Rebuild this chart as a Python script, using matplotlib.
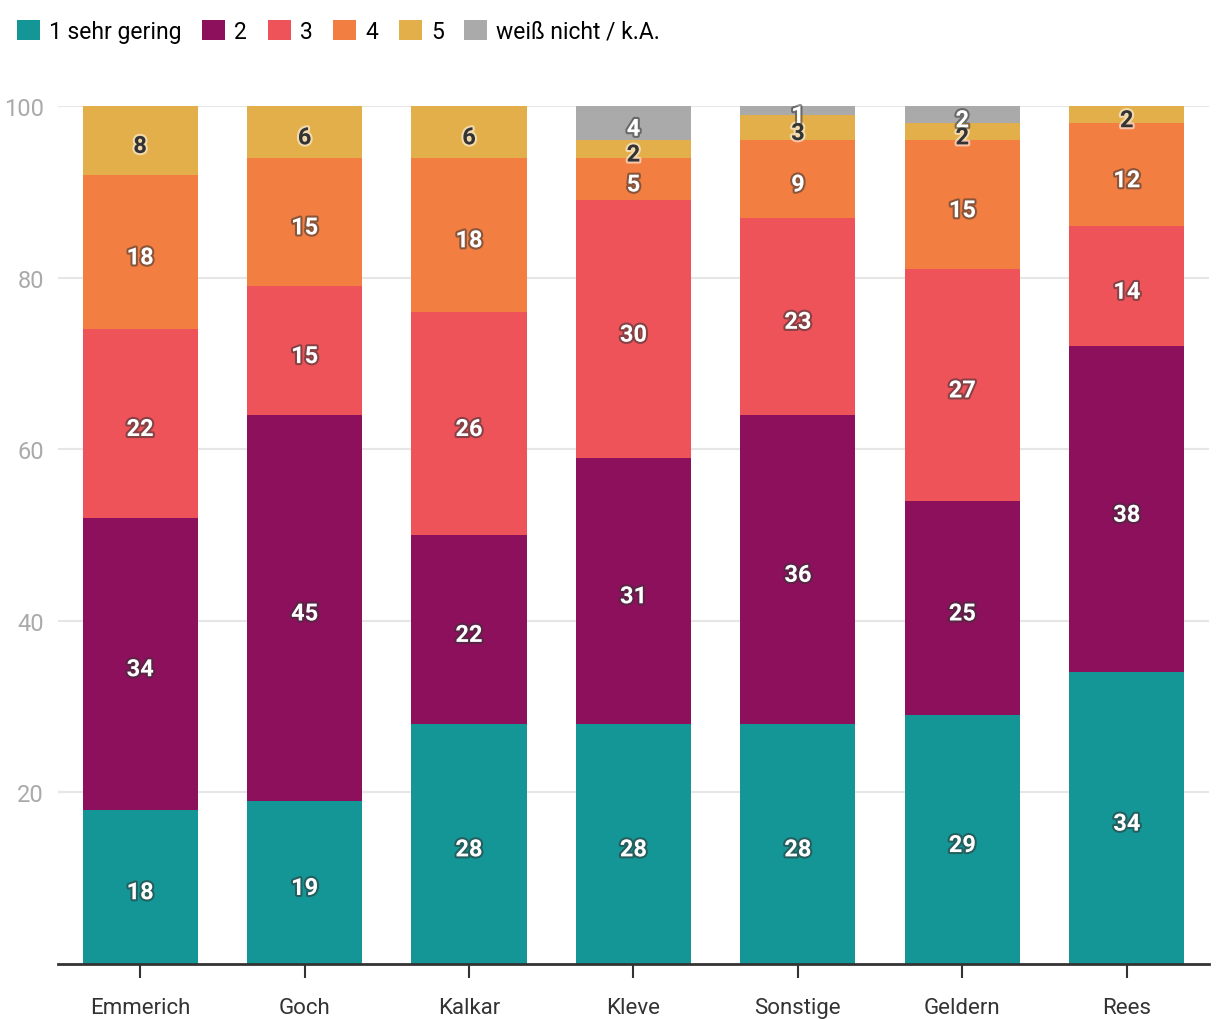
import numpy as np
import matplotlib
matplotlib.use('Agg')
import matplotlib.pyplot as plt
import matplotlib.patheffects as pe
from matplotlib.patches import Patch

plt.rcParams['font.family'] = ['Roboto', 'DejaVu Sans']

orte = ['Emmerich', 'Goch', 'Kalkar', 'Kleve', 'Sonstige', 'Geldern', 'Rees']
serien = ['1 sehr gering', '2', '3', '4', '5', 'weiß nicht / k.A.']
farben = ['#149696', '#8c105c', '#ee535a', '#f27e42', '#e3af4a', '#aaaaaa']

s1 = [18, 19, 28, 28, 28, 29, 34]
s2 = [34, 45, 22, 31, 36, 25, 38]
s3 = [22, 15, 26, 30, 23, 27, 14]
s4 = [18, 15, 18, 5, 9, 15, 12]
s5 = [8, 6, 6, 2, 3, 2, 2]
s_ka = [0, 0, 0, 4, 1, 2, 0]
werte = [s1, s2, s3, s4, s5, s_ka]

fig = plt.figure(figsize=(12.2, 10.2), dpi=100)
ax = fig.add_axes([0.0475, 0.054, 0.9435, 0.841])

x = np.arange(len(orte))
unten = np.zeros(len(orte))
for i, (name, vals, col) in enumerate(zip(serien, werte, farben)):
    vals = np.array(vals, dtype=float)
    ax.bar(x, vals, 0.7, bottom=unten, color=col, zorder=2)
    for xi, v, b in zip(x, vals, unten):
        if v <= 0:
            continue
        if i == 4:  # gelb: dunkle Schrift
            tc, sc = '#333333', 'white'
        else:
            tc, sc = 'white', '#333333'
        ax.text(xi, b + v / 2 - 0.7, '%d' % v, ha='center', va='center',
                fontsize=17, fontweight='bold', color=tc, zorder=3,
                path_effects=[pe.withStroke(linewidth=3, foreground=sc, alpha=0.55)])
    unten += vals

ax.set_xlim(-0.5, len(orte) - 0.5)
ax.set_ylim(0, 100)
ax.set_yticks([20, 40, 60, 80, 100])
ax.set_yticklabels(['20', '40', '60', '80', '100'])
ax.grid(axis='y', color='#e6e6e6', linewidth=1.5, zorder=0)
ax.tick_params(axis='y', length=0, labelsize=17, labelcolor='#aaaaaa', pad=10)
ax.set_xticks(x)
ax.set_xticklabels(orte)
ax.tick_params(axis='x', length=10, width=1.5, color='#333333', labelsize=16,
               labelcolor='#333333', pad=14)
for s in ['top', 'right', 'left']:
    ax.spines[s].set_visible(False)
ax.spines['bottom'].set_color('#333333')
ax.spines['bottom'].set_linewidth(2)
ax.spines['bottom'].set_zorder(4)

griffe = [Patch(facecolor=c, edgecolor='none') for c in farben]
fig.legend(griffe, serien, loc='upper left', bbox_to_anchor=(-0.003, 1.0), ncol=6,
           frameon=False, fontsize=16.5, handlelength=1.0, handleheight=1.0,
           handletextpad=0.4, columnspacing=0.9, borderaxespad=0.5)

fig.savefig('out.png', dpi=100)
